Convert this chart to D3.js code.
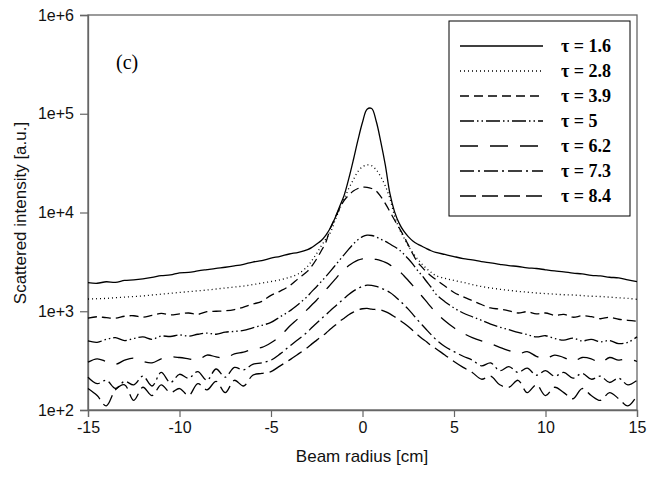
<!DOCTYPE html>
<html>
<head>
<meta charset="utf-8">
<script src="https://cdn.jsdelivr.net/npm/d3@7"></script>
<style>
body { margin: 0; background: #fff; }
text { font-family: Arial, "Liberation Sans", sans-serif; }
</style>
</head>
<body>
<div id="chart"></div>
<script>
// beam radius positions [cm]
const radius = [-15,-14.5,-14,-13.5,-13,-12.5,-12,-11.5,-11,-10.5,-10,-9.5,-9,-8.5,-8,-7.5,-7,-6.5,-6,-5.5,-5,-4.5,-4,-3.5,
	-3,-2.75,-2.5,-2.25,-2,-1.75,-1.5,-1.25,-1,-0.75,-0.5,-0.25,0,0.25,0.5,0.75,1,1.25,1.5,1.75,2,2.25,2.5,2.75,3,3.25,3.5,3.75,4,
	4.5,5,5.5,6,6.5,7,7.5,8,8.5,9,9.5,10,10.5,11,11.5,12,12.5,13,13.5,14,14.5,15];

const tau16 = [1950,1920,1990,1960,2050,2080,2130,2200,2290,2330,2450,2470,2560,2640,2720,2790,2880,2990,3150,3260,3450,3600,3800,3950,
	4200,4450,4800,5200,5900,7000,8800,11500,15000,22000,34000,54000,82000,111000,113000,84000,52000,30000,15500,10200,7800,6500,5700,5150,4800,4550,4300,4100,3950,
	3760,3580,3420,3310,3180,3090,2990,2900,2840,2750,2710,2630,2560,2510,2430,2390,2310,2280,2210,2180,2080,1990];

const tau28 = [1330,1340,1350,1370,1390,1410,1430,1460,1490,1520,1550,1580,1610,1640,1680,1720,1760,1800,1860,1930,2000,2080,2200,2400,
	2850,3300,3850,4600,5400,6300,8300,10800,13800,17500,21500,26000,29000,30300,29800,27000,23000,18500,13800,9300,6900,5600,4600,3900,3400,3000,2700,2480,2300,
	2150,2050,1960,1860,1780,1720,1670,1630,1590,1560,1530,1510,1490,1470,1460,1440,1420,1410,1390,1370,1350,1320];

const tau39 = [850,880,860,850,890,900,870,910,950,920,940,960,930,990,1000,1010,1040,1100,1180,1260,1450,1600,1800,2150,
	2550,2900,3400,4100,5000,7000,8800,11000,13300,15000,16500,17500,18000,18000,17500,16500,14500,12300,10200,8400,7000,5800,4700,3800,3150,2800,2500,2280,2100,
	1800,1550,1400,1280,1170,1080,1050,1010,960,990,940,960,910,930,870,900,880,840,870,830,810,790];

const tau50 = [500,485,520,540,505,530,550,520,560,555,575,560,585,600,585,615,625,640,680,720,770,880,1000,1180,
	1420,1600,1780,2000,2250,2550,2900,3300,3750,4250,4800,5300,5700,5900,5850,5650,5350,5100,4800,4500,4200,3800,3400,3000,2600,2300,2000,1750,1500,
	1250,1080,960,880,810,740,690,650,610,580,550,565,530,510,535,500,520,490,505,470,485,550];

const tau62 = [305,330,310,290,320,335,310,300,330,345,340,330,320,360,345,335,370,385,415,430,480,560,700,850,
	1050,1170,1300,1460,1650,1860,2100,2380,2650,2900,3120,3300,3400,3450,3420,3350,3250,3120,2950,2750,2550,2300,2050,1820,1600,1420,1250,1100,980,
	800,680,600,540,500,470,430,400,370,390,350,330,360,340,310,340,330,300,340,320,330,310];

const tau73 = [215,185,200,165,195,180,220,175,240,190,230,210,245,200,260,215,270,255,290,300,320,370,440,520,
	620,690,760,840,920,1020,1120,1230,1350,1480,1600,1700,1790,1840,1830,1790,1720,1640,1550,1430,1300,1170,1050,930,820,730,650,580,520,
	440,390,350,320,280,300,250,275,240,265,225,250,220,240,210,235,205,220,190,210,180,200];

const tau84 = [165,140,110,160,180,125,170,140,180,150,165,140,185,160,195,150,200,175,225,235,245,280,320,370,
	430,470,510,555,600,660,720,790,850,920,980,1030,1060,1070,1050,1040,1030,990,940,880,820,760,700,640,580,530,490,450,420,
	360,310,270,240,205,220,180,170,200,150,180,140,170,150,130,165,140,125,150,130,110,140];

const seriesLabels = ['\u03c4 = 1.6', '\u03c4 = 2.8', '\u03c4 = 3.9', '\u03c4 = 5', '\u03c4 = 6.2', '\u03c4 = 7.3', '\u03c4 = 8.4'];
const seriesValues = [tau16, tau28, tau39, tau50, tau62, tau73, tau84];
const dashes = ['none', '1,3', '9,5', '14,3,1.5,3,1.5,3', '18,12', '14,4,2,4', '16,6'];

const xTicks = [-15, -10, -5, 0, 5, 10, 15];
const yTicks = [1e2, 1e3, 1e4, 1e5, 1e6];

let width = 647;
let height = 478;

let svg = d3.select('#chart').append('svg')
	.attr('width', width)
	.attr('height', height);

let x = d3.scaleLinear().domain([-15, 15]).range([88, 637]);
let y = d3.scaleLog().domain([1e2, 1e6]).range([410, 15]);

// frame
svg.append('rect')
	.attr('x', 88)
	.attr('y', 15)
	.attr('width', 549)
	.attr('height', 395)
	.attr('fill', 'none')
	.attr('stroke', '#666')
	.attr('stroke-width', 1.3);

let xAxis = svg.append('g')
	.attr('transform', 'translate(0,410)')
	.call(d3.axisBottom(x).tickValues(xTicks).tickSize(7).tickPadding(5).tickFormat(d => d));

let yAxis = svg.append('g')
	.attr('transform', 'translate(88,0)')
	.call(d3.axisLeft(y).tickValues(yTicks).tickSize(8).tickPadding(6)
		.tickFormat(d => '1e+' + Math.round(Math.log10(d))));

[xAxis, yAxis].forEach(g => {
	g.select('.domain').attr('stroke', '#666').attr('stroke-width', 1.3);
	g.selectAll('.tick line').attr('stroke', '#666').attr('stroke-width', 1.2);
	g.selectAll('.tick text')
		.attr('fill', '#111')
		.style('font-family', 'Arial, "Liberation Sans", sans-serif')
		.style('font-size', '16px');
});

svg.append('text')
	.attr('x', 362)
	.attr('y', 462)
	.attr('text-anchor', 'middle')
	.attr('font-size', 17)
	.attr('fill', '#111')
	.text('Beam radius [cm]');

svg.append('text')
	.attr('transform', 'translate(26,213) rotate(-90)')
	.attr('text-anchor', 'middle')
	.attr('font-size', 17)
	.attr('fill', '#111')
	.text('Scattered intensity [a.u.]');

svg.append('text')
	.attr('x', 116)
	.attr('y', 69)
	.attr('font-size', 20)
	.style('font-family', '"Times New Roman", "Liberation Serif", serif')
	.text('(c)');

let line = d3.line()
	.x((d, i) => x(radius[i]))
	.y(d => y(d))
	.curve(d3.curveCatmullRom.alpha(0.5));

let linesGroup = svg.append('g');

linesGroup.selectAll('path')
	.data(seriesValues)
	.enter()
	.append('path')
	.attr('d', d => line(d))
	.attr('fill', 'none')
	.attr('stroke', '#000')
	.attr('stroke-width', 1.3)
	.attr('stroke-dasharray', (d, i) => dashes[i]);

// legend
let legend = svg.append('g');

legend.append('rect')
	.attr('x', 449)
	.attr('y', 21)
	.attr('width', 181)
	.attr('height', 195)
	.attr('fill', '#fff')
	.attr('stroke', '#000')
	.attr('stroke-width', 1);

let rows = legend.selectAll('g.row')
	.data(seriesLabels)
	.enter()
	.append('g')
	.attr('class', 'row')
	.attr('transform', (d, i) => 'translate(0,' + (46 + i * 25) + ')');

rows.append('line')
	.attr('x1', 460)
	.attr('x2', 543)
	.attr('stroke', '#000')
	.attr('stroke-width', 1.3)
	.attr('stroke-dasharray', (d, i) => dashes[i]);

rows.append('text')
	.attr('x', 561)
	.attr('dy', '0.35em')
	.attr('font-size', 18)
	.attr('font-weight', 'bold')
	.style('font-family', '"Times New Roman", "Liberation Serif", serif')
	.text(d => d);
</script>
</body>
</html>
